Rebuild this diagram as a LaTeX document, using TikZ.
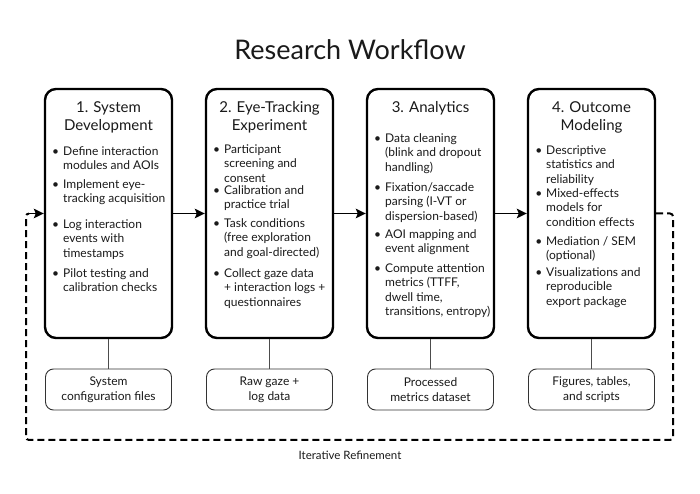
\documentclass[tikz,border=0pt]{standalone}
\usepackage{fontspec}
\setmainfont{Lato}
\usetikzlibrary{arrows.meta}
\newcommand{\itm}[1]{\llap{\textbullet\hspace{4pt}}\begin{tabular}[t]{@{}l@{}}#1\end{tabular}}
\newcommand{\ttlc}[1]{\begin{tabular}[t]{@{}c@{}}#1\end{tabular}}
\definecolor{ink}{HTML}{1A1A1A}
\tikzset{
  mainbox/.style={draw=black, line width=2.4pt, rounded corners=11pt, minimum width=127pt, minimum height=249pt, inner sep=0pt},
  outbox/.style={draw=black!80, line width=0.9pt, rounded corners=8pt, minimum width=126pt, minimum height=41pt, align=center, font=\fontsize{12}{15}\selectfont, text=ink},
  flow/.style={line width=1.7pt, -{Stealth[length=10pt,width=9.5pt,inset=2pt]}},
  link/.style={line width=0.8pt, draw=black!70},
  fbloop/.style={line width=2pt, dash pattern=on 7pt off 4pt, rounded corners=3pt},
  itmtext/.style={anchor=base west, inner sep=0pt, font=\fontsize{12}{14.3}\selectfont, text=ink},
  ttl/.style={anchor=base, inner sep=0pt, font=\fontsize{15}{18}\selectfont, text=ink}
}
\begin{document}
\begin{tikzpicture}[x=1pt,y=1pt]
\useasboundingbox (0,0) rectangle (700,494);
\fill[white] (0,0) rectangle (700,494);

\node[anchor=base, inner sep=0pt, font=\fontsize{27}{32}\selectfont, text=ink] (title) at (350,434) {Research Workflow};

% main boxes
\node[mainbox] (b1) at (108.5,280.5) {};
\node[mainbox] (b2) at (269.5,280.5) {};
\node[mainbox] (b3) at (430.5,280.5) {};
\node[mainbox] (b4) at (591.5,280.5) {};

% titles
\node[ttl] (t1) at (108.5,381) {\ttlc{1. System\\Development}};
\node[ttl] (t2) at (269.5,381) {\ttlc{2. Eye-Tracking\\Experiment}};
\node[ttl] (t3) at (430.5,381) {\ttlc{3. Analytics}};
\node[ttl] (t4) at (591.5,381) {\ttlc{4. Outcome\\Modeling}};

% box 1 items
\node[itmtext] (b1a) at (63,338.5) {\itm{Define interaction\\modules and AOIs}};
\node[itmtext] (b1b) at (63,305.5) {\itm{Implement eye-\\tracking acquisition}};
\node[itmtext] (b1c) at (63,265.5) {\itm{Log interaction\\events with\\timestamps}};
\node[itmtext] (b1d) at (63,216.5) {\itm{Pilot testing and\\calibration checks}};

% box 2 items
\node[itmtext] (b2a) at (224,340.5) {\itm{Participant\\screening and\\consent}};
\node[itmtext] (b2b) at (224,299.5) {\itm{Calibration and\\practice trial}};
\node[itmtext] (b2c) at (224,266.5) {\itm{Task conditions\\(free exploration\\and goal-directed)}};
\node[itmtext] (b2d) at (224,216.5) {\itm{Collect gaze data\\+ interaction logs +\\questionnaires}};

% box 3 items
\node[itmtext] (b3a) at (385,351.5) {\itm{Data cleaning\\(blink and dropout\\handling)}};
\node[itmtext] (b3b) at (385,302.5) {\itm{Fixation/saccade\\parsing (I-VT or\\dispersion-based)}};
\node[itmtext] (b3c) at (385,255.5) {\itm{AOI mapping and\\event alignment}};
\node[itmtext] (b3d) at (385,221.5) {\itm{Compute attention\\metrics (TTFF,\\dwell time,\\transitions, entropy)}};

% box 4 items
\node[itmtext] (b4a) at (546,339.5) {\itm{Descriptive\\statistics and\\reliability}};
\node[itmtext] (b4b) at (546,296.5) {\itm{Mixed-effects\\models for\\condition effects}};
\node[itmtext] (b4c) at (546,248.5) {\itm{Mediation / SEM\\(optional)}};
\node[itmtext] (b4d) at (546,217.5) {\itm{Visualizations and\\reproducible\\export package}};

% output boxes
\node[outbox] (o1) at (108.5,104.5) {System\\configuration files};
\node[outbox] (o2) at (269.5,104.5) {Raw gaze +\\log data};
\node[outbox] (o3) at (430.5,104.5) {Processed\\metrics dataset};
\node[outbox] (o4) at (591.5,104.5) {Figures, tables,\\and scripts};

\draw[link] (b1.south) -- (o1.north);
\draw[link] (b2.south) -- (o2.north);
\draw[link] (b3.south) -- (o3.north);
\draw[link] (b4.south) -- (o4.north);

% flow arrows
\draw[flow] (b1.east) -- (b2.west);
\draw[flow] (b2.east) -- (b3.west);
\draw[flow] (b3.east) -- (b4.west);

% feedback loop
\coordinate (lr) at (673,54);
\coordinate (ll) at (26,54);
\coordinate (ent) at (29,280.5);
\draw[fbloop] (b4.east) -| (lr) -- (ll) |- (ent);
\draw[flow] (ent) -- (b1.west);
\node[inner sep=0pt, font=\fontsize{11.5}{14}\selectfont, text=ink] (iter) at (350,39) {Iterative Refinement};
\end{tikzpicture}
\end{document}
